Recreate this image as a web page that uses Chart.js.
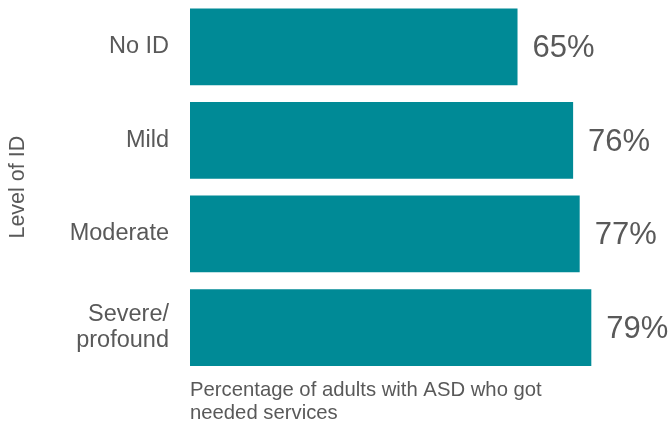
<!DOCTYPE html>
<html>
<head>
<meta charset="utf-8">
<script src="https://cdn.jsdelivr.net/npm/chart.js@4"></script>
<style>
  body { margin: 0; background: #fff; }
  #wrap { width: 670px; height: 428px; position: relative; }
</style>
</head>
<body>
<div id="wrap"><canvas id="chart"></canvas></div>
<script>
const categories = ['No ID', 'Mild', 'Moderate', ['Severe/', 'profound']];
const percentages = [64.8, 75.8, 77.1, 79.4];
const valueLabels = ['65%', '76%', '77%', '79%'];

const textGrey = '#595959';
const barColor = '#008A96';
const fontFamily = '"Liberation Sans", Arial, sans-serif';

// draw the percentage next to each bar
const valueLabelPlugin = {
  id: 'valueLabels',
  afterDatasetsDraw(chart) {
    const ctx = chart.ctx;
    const meta = chart.getDatasetMeta(0);
    ctx.save();
    ctx.fillStyle = textGrey;
    ctx.font = '31px ' + fontFamily;
    ctx.textAlign = 'left';
    ctx.textBaseline = 'middle';
    meta.data.forEach((bar, i) => {
      ctx.fillText(valueLabels[i], bar.x + 15, bar.y + 2);
    });
    ctx.restore();
  }
};

new Chart(document.getElementById('chart'), {
  type: 'bar',
  data: {
    labels: categories,
    datasets: [{
      data: percentages,
      backgroundColor: barColor,
      barPercentage: 0.82,
      categoryPercentage: 1.0
    }]
  },
  options: {
    indexAxis: 'y',
    responsive: true,
    maintainAspectRatio: false,
    animation: false,
    layout: { padding: { top: 0, right: 15, bottom: 0, left: 0 } },
    plugins: {
      legend: { display: false },
      tooltip: { enabled: false }
    },
    scales: {
      x: {
        min: 0,
        max: 92,
        grid: { display: false, drawTicks: false },
        border: { display: false },
        ticks: { display: false },
        title: {
          display: true,
          align: 'start',
          text: ['Percentage of adults with ASD who got', 'needed services'],
          color: textGrey,
          font: { family: fontFamily, size: 20.3, lineHeight: 1.15 },
          padding: { top: 4, bottom: 3 }
        },
        afterFit(axis) { axis.paddingLeft = 0; axis.paddingRight = 0; }
      },
      y: {
        grid: { display: false, drawTicks: false },
        border: { display: false },
        ticks: {
          color: textGrey,
          padding: 21,
          font: { family: fontFamily, size: 23.5, lineHeight: 1.12 }
        },
        title: {
          display: true,
          text: 'Level of ID',
          color: textGrey,
          font: { family: fontFamily, size: 21.5, lineHeight: 1.2 },
          padding: { top: 5, bottom: 0 }
        },
        afterFit(axis) {
          axis.width = 190;
          axis.paddingTop = 0;
          axis.paddingBottom = 0;
        }
      }
    }
  },
  plugins: [valueLabelPlugin]
});
</script>
</body>
</html>
